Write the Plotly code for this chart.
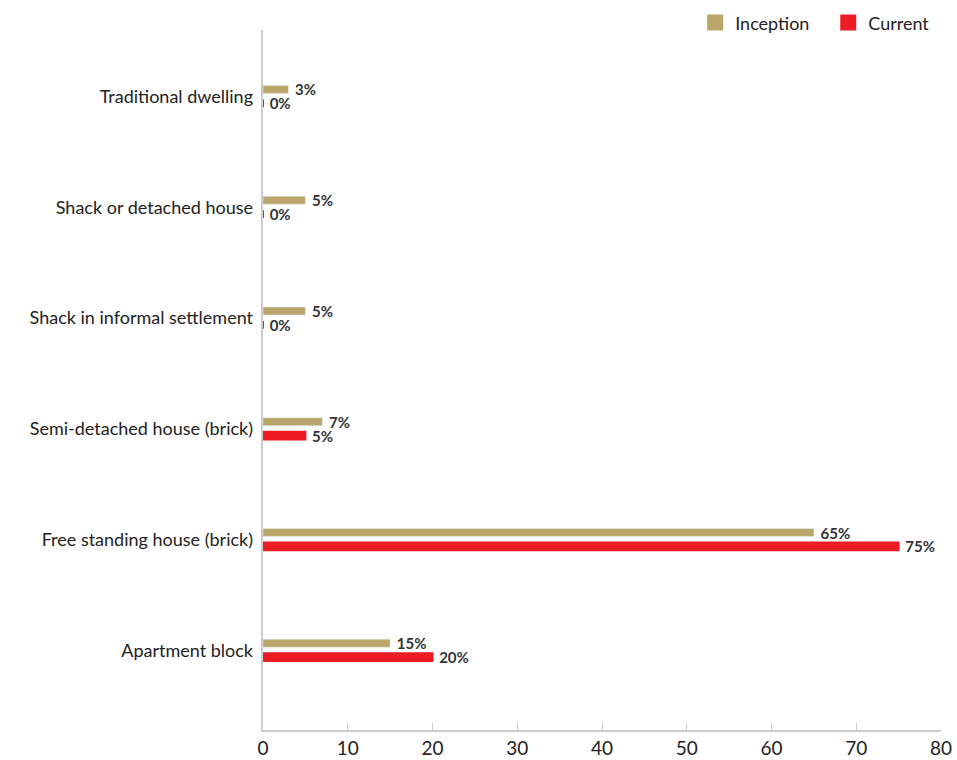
import plotly.graph_objects as go

categories = ["Apartment block", "Free standing house (brick)", "Semi-detached house (brick)",
              "Shack in informal settlement", "Shack or detached house", "Traditional dwelling"]
inception = [15, 65, 7, 5, 5, 3]
current = [20, 75, 5, 0, 0, 0]
x_ticks = [0, 10, 20, 30, 40, 50, 60, 70, 80]
series_names = ["Inception", "Current"]
series_colors = ["#BBA66A", "#ED1C24"]
legend_pad = ["   ", "    "]

FONT = "Lato"
fig = go.Figure()
fig.add_trace(go.Bar(
    y=categories, x=inception, orientation="h", name=series_names[0], showlegend=False,
    marker=dict(color=series_colors[0]), width=0.072, offset=0.027,
    text=[f" {v}%" for v in inception], textposition="outside", cliponaxis=False,
    constraintext="none",
    textfont=dict(family=FONT, size=15, color="#333333", weight="bold"),
))
fig.add_trace(go.Bar(
    y=categories, x=current, orientation="h", name=series_names[1], showlegend=False,
    marker=dict(color=series_colors[1], line=dict(color=series_colors[1], width=2)),
    width=0.07, offset=-0.098,
    text=[f" {v}%" for v in current], textposition="outside", cliponaxis=False,
    constraintext="none",
    textfont=dict(family=FONT, size=15, color="#333333", weight="bold"),
))
# legend entries with large square swatches
for nm, col, pad in zip(series_names, series_colors, legend_pad):
    fig.add_trace(go.Scatter(x=[None], y=[None], mode="markers", name=nm + pad,
                             marker=dict(symbol="square", size=21, color=col)))

fig.update_layout(
    width=957, height=760, plot_bgcolor="white", paper_bgcolor="white",
    margin=dict(l=263, r=16, t=30, b=30, autoexpand=False),
    barmode="overlay",
    font=dict(family=FONT, color="#222222"),
    legend=dict(orientation="h", xref="container", yref="container",
                x=0.995, xanchor="right", y=0.97, yanchor="middle",
                font=dict(size=18, family=FONT), traceorder="normal",
                itemwidth=30, bgcolor="rgba(0,0,0,0)"),
    xaxis=dict(range=[0, 80], tickvals=x_ticks, showgrid=False, zeroline=False,
               showline=True, linecolor="#cccccc", linewidth=1.5, automargin=False,
               ticks="inside", ticklen=7, tickcolor="#cccccc",
               tickfont=dict(size=19, family=FONT, color="#222222")),
    yaxis=dict(range=[-0.72, 5.6], showgrid=False, zeroline=False,
               showline=True, linecolor="#cccccc", linewidth=1.5, ticks="",
               ticksuffix=" ", automargin=False,
               tickfont=dict(size=18, family=FONT, color="#222222")),
)
fig.write_html("out.html")
